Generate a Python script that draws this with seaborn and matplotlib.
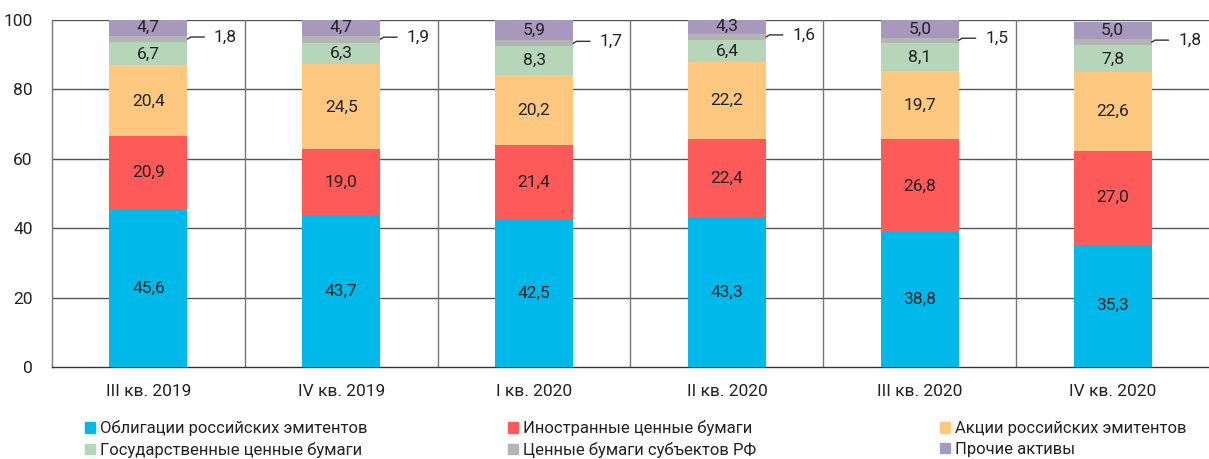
import matplotlib
matplotlib.use("Agg")
import matplotlib.pyplot as plt
import seaborn as sns
import pandas as pd
import numpy as np

categories = ["III кв. 2019", "IV кв. 2019", "I кв. 2020", "II кв. 2020", "III кв. 2020", "IV кв. 2020"]
series_names = ["Облигации российских эмитентов", "Иностранные ценные бумаги",
                "Акции российских эмитентов", "Государственные ценные бумаги",
                "Ценные бумаги субъектов РФ", "Прочие активы"]
obligations = [45.6, 43.7, 42.5, 43.3, 38.8, 35.3]
foreign = [20.9, 19.0, 21.4, 22.4, 26.8, 27.0]
shares = [20.4, 24.5, 20.2, 22.2, 19.7, 22.6]
government = [6.7, 6.3, 8.3, 6.4, 8.1, 7.8]
regional = [1.8, 1.9, 1.7, 1.6, 1.5, 1.8]
other = [4.7, 4.7, 5.9, 4.3, 5.0, 5.0]
colors = ["#00B9EB", "#FF5A5A", "#FFC880", "#B5D6B9", "#B4B4B4", "#A799BD"]

sns.set_theme(style="white")
plt.rcParams["font.family"] = ["Roboto", "DejaVu Sans"]

all_series = [obligations, foreign, shares, government, regional, other]

fig = plt.figure(figsize=(12.09, 4.59), dpi=100)
ax = fig.add_axes([52/1209, 92/459, 1 - 52/1209, (367-20)/459])

bottom = np.zeros(len(categories))
handles = []
for name, vals, col in zip(series_names, all_series, colors):
    d = pd.DataFrame({"cat": categories, "val": vals})
    sns.barplot(data=d, x="cat", y="val", ax=ax, color=col, width=0.405,
                bottom=bottom.copy(), order=categories, zorder=3, linewidth=0,
                saturation=1)
    handles.append(plt.Rectangle((0, 0), 1, 1, color=col, label=name))
    for i, v in enumerate(vals):
        y = bottom[i] + v / 2
        if name == "Ценные бумаги субъектов РФ":
            ax.plot([i + 0.2025, i + 0.22, i + 0.29], [y, y + 0.6, y + 0.6],
                    color="#333333", lw=1, zorder=4)
            ax.text(i + 0.34, y + 0.6, f"{v:.1f}".replace(".", ","), ha="left", va="center",
                    fontsize=12.5, color="#222222", zorder=5)
        else:
            ax.text(i, y, f"{v:.1f}".replace(".", ","), ha="center", va="center",
                    fontsize=12.5, color="#222222", zorder=5)
    bottom += np.array(vals)

ax.set_xlim(-0.5, 5.5)
ax.set_ylim(0, 100)
ax.set_yticks([0, 20, 40, 60, 80, 100])
ax.set_xlabel("")
ax.set_ylabel("")
for y in [20, 40, 60, 80, 100]:
    ax.axhline(y, color="#555555", lw=1, zorder=1)
for x in [0.5, 1.5, 2.5, 3.5, 4.5]:
    ax.axvline(x, color="#777777", lw=1, zorder=1)
for s in ["top", "right"]:
    ax.spines[s].set_visible(False)
ax.spines["left"].set_color("#777777")
ax.spines["bottom"].set_color("#333333")
ax.spines["left"].set_linewidth(1)
ax.spines["bottom"].set_linewidth(1)
ax.tick_params(axis="both", length=0, labelsize=12.5, colors="#222222")
ax.tick_params(axis="x", pad=12)
ax.tick_params(axis="y", pad=14)
ax.set_yticklabels(["0", "20", "40", "60", "80", "100"])

col_pairs = [(0, 3), (1, 4), (2, 5)]
col_x = [85, 508, 940]
for (a, b), x0 in zip(col_pairs, col_x):
    leg = fig.legend([handles[a], handles[b]], [series_names[a], series_names[b]],
                     loc="center left", bbox_to_anchor=(x0 / 1209, 1 - 439 / 459),
                     frameon=False, fontsize=12, handlelength=0.6, handleheight=0.6,
                     handletextpad=0.3, labelspacing=0.35, borderpad=0, borderaxespad=0)
    for t in leg.get_texts():
        t.set_color("#222222")

fig.savefig("out.png", dpi=100)
